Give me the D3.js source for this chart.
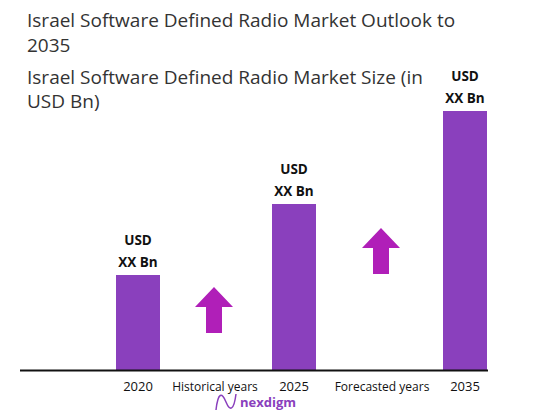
<!DOCTYPE html>
<html><head><meta charset="utf-8">
<script src="https://cdn.jsdelivr.net/npm/d3@7"></script>
<style>body{margin:0;background:#fff;font-family:"Open Sans",sans-serif}</style>
</head><body><div id="chart"></div>
<script>
// données
const axisLabels = ["2020", "Historical years", "2025", "Forecasted years", "2035"];
const years = ["2020", "2025", "2035"];
const values = [0.95, 1.66, 2.59];
const barLabels = ["USD", "XX Bn"];
const arrowSlots = ["Historical years", "Forecasted years"];
const arrowBase = [0.37, 0.96]; // bas des flèches (unités de l'axe)

const W = 534, H = 417;
const svg = d3.select("#chart").append("svg").attr("width", W).attr("height", H);

const x = d3.scaleOrdinal().domain(axisLabels).range([138, 215, 294, 382, 465]);
const y = d3.scaleLinear().domain([0, 2.59]).range([370, 111]);
const bw = 44;

// titres
const titles = [["Israel Software Defined Radio Market Outlook to", 27], ["2035", 52], ["Israel Software Defined Radio Market Size (in", 84], ["USD Bn)", 108]];
titles.forEach(t => svg.append("text").attr("x", 27).attr("y", t[1]).style("font-size", "19px").attr("fill", "#333").text(t[0]));

// barres
svg.selectAll("rect.bar").data(years).enter().append("rect")
  .attr("x", d => x(d) - bw / 2).attr("width", bw)
  .attr("y", (d, i) => y(values[i])).attr("height", (d, i) => y(0) - y(values[i]))
  .attr("fill", "#8a40bd");

// étiquettes des barres
years.forEach((d, i) => {
  barLabels.forEach((t, j) => {
    svg.append("text").attr("x", x(d)).attr("y", y(values[i]) - 30 + j * 22)
      .attr("text-anchor", "middle").style("font-size", "13.5px").style("font-weight", "bold")
      .attr("fill", "#111").text(t);
  });
});

// flèches
arrowSlots.forEach((s, i) => {
  const cx = x(s) - 1, b = y(arrowBase[i]);
  const pts = [[cx - 8, b], [cx + 8, b], [cx + 8, b - 26], [cx + 19, b - 26], [cx, b - 46], [cx - 19, b - 26], [cx - 8, b - 26]];
  svg.append("path").attr("d", d3.line()(pts) + "Z").attr("fill", "#b01fb8");
});

// axe
svg.append("line").attr("x1", 20).attr("x2", 488).attr("y1", 370.5).attr("y2", 370.5).attr("stroke", "#111").attr("stroke-width", 2);
svg.selectAll("text.tick").data(axisLabels).enter().append("text")
  .attr("x", d => x(d)).attr("y", 391).attr("text-anchor", "middle")
  .style("font-size", d => d.length > 4 ? "12px" : "13px").attr("fill", "#111").text(d => d);

// logo
svg.append("path").attr("d", "M216,410 C218,392 222,392 226,402 C230,412 234,410 236,394").attr("fill", "none").attr("stroke", "#8a40bd").attr("stroke-width", 1.5);
svg.append("text").attr("x", 240).attr("y", 407).style("font-size", "13px").style("font-weight", "bold").attr("fill", "#8a40bd").text("nexdigm");
</script></body></html>
